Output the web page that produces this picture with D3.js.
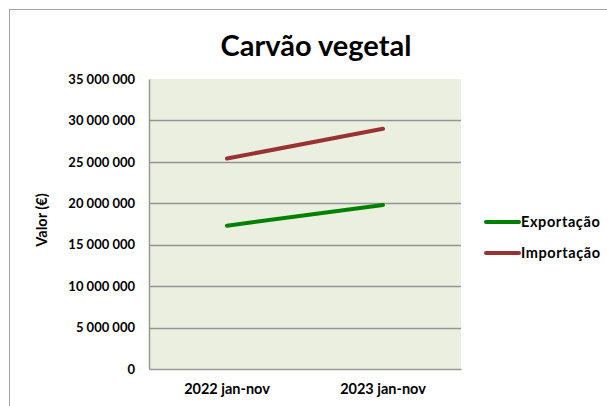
<!DOCTYPE html>
<html>
<head>
<meta charset="utf-8">
<script src="https://cdn.jsdelivr.net/npm/d3@7"></script>
<style>
  body { margin: 0; background: #fff; }
  text { font-family: Lato, "Open Sans", sans-serif; font-weight: bold; }
</style>
</head>
<body>
<div id="chart"></div>
<script>
/* global d3 */

var categories = ["2022 jan-nov", "2023 jan-nov"];
var exportacao = [17300000, 19800000];
var importacao = [25400000, 29000000];
var yTicks = [0, 5000000, 10000000, 15000000, 20000000, 25000000, 30000000, 35000000];
var seriesNames = ["Exportação", "Importação"];
var seriesColors = ["#008000", "#993333"];

var width = 607,
    height = 406,
    margin = {top: 79, right: 146, bottom: 37, left: 149},
    innerWidth = width - margin.left - margin.right,
    innerHeight = height - margin.top - margin.bottom;

var svg = d3.select("#chart").append("svg")
    .attr("width", width)
    .attr("height", height);

// outer chart frame
svg.append("rect")
    .attr("x", 9.5).attr("y", 9.5)
    .attr("width", width + 20).attr("height", height + 20)
    .attr("fill", "#fff")
    .attr("stroke", "#a6a6a6");

svg.append("text")
    .attr("x", 316).attr("y", 56)
    .attr("text-anchor", "middle")
    .style("font-size", "29px")
    .text("Carvão vegetal");

var g = svg.append("g")
    .attr("transform", "translate(" + margin.left + "," + margin.top + ")");

var xScale = d3.scaleBand().domain(categories).range([0, innerWidth]);
var yScale = d3.scaleLinear().domain([0, 35000000]).range([innerHeight, 0]);

g.append("rect")
    .attr("width", innerWidth)
    .attr("height", innerHeight)
    .attr("fill", "#ebefdf");

// gridlines
g.selectAll(".grid")
    .data(yTicks.slice(1, -1))
    .enter().append("line")
    .attr("x1", 0).attr("x2", innerWidth)
    .attr("y1", function(d) { return Math.round(yScale(d)) + 0.5; })
    .attr("y2", function(d) { return Math.round(yScale(d)) + 0.5; })
    .attr("stroke", "#949494")
    .attr("stroke-width", 1.5);

var fmt = function(d) { return d3.format(",")(d).replace(/,/g, " "); };

var yAxis = g.append("g")
    .call(d3.axisLeft(yScale).tickValues(yTicks).tickSize(0).tickPadding(14).tickFormat(fmt));
yAxis.select(".domain").attr("stroke", "#999").attr("stroke-width", 1.5);
yAxis.selectAll("text").style("font-size", "13px").attr("fill", "#000").attr("font-family", null);

var xAxis = g.append("g")
    .attr("transform", "translate(0," + innerHeight + ")")
    .call(d3.axisBottom(xScale).tickSize(0).tickPadding(15));
xAxis.select(".domain").attr("stroke", "#999").attr("stroke-width", 1.5);
xAxis.selectAll("text").style("font-size", "14.5px").attr("fill", "#000").attr("font-family", null);

svg.append("text")
    .attr("transform", "translate(47," + (margin.top + innerHeight / 2 - 4) + ") rotate(-90)")
    .attr("text-anchor", "middle")
    .style("font-size", "14.5px")
    .text("Valor (€)");

var line = d3.line()
    .x(function(d, i) { return xScale(categories[i]) + xScale.bandwidth() / 2; })
    .y(function(d) { return yScale(d); });

[exportacao, importacao].forEach(function(s, i) {
    g.append("path")
        .datum(s)
        .attr("d", line)
        .attr("fill", "none")
        .attr("stroke", seriesColors[i])
        .attr("stroke-width", 4)
        .attr("stroke-linecap", "round");
});

// legend
var legend = svg.selectAll(".legend")
    .data(seriesNames)
    .enter().append("g")
    .attr("transform", function(d, i) { return "translate(486," + (222 + i * 31) + ")"; });

legend.append("line")
    .attr("x1", 0).attr("x2", 33)
    .attr("stroke", function(d, i) { return seriesColors[i]; })
    .attr("stroke-width", 4)
    .attr("stroke-linecap", "round");

legend.append("text")
    .attr("x", 35).attr("dy", "0.35em")
    .style("font-size", "14.5px")
    .style("letter-spacing", "0.6px")
    .text(function(d) { return d; });
</script>
</body>
</html>
